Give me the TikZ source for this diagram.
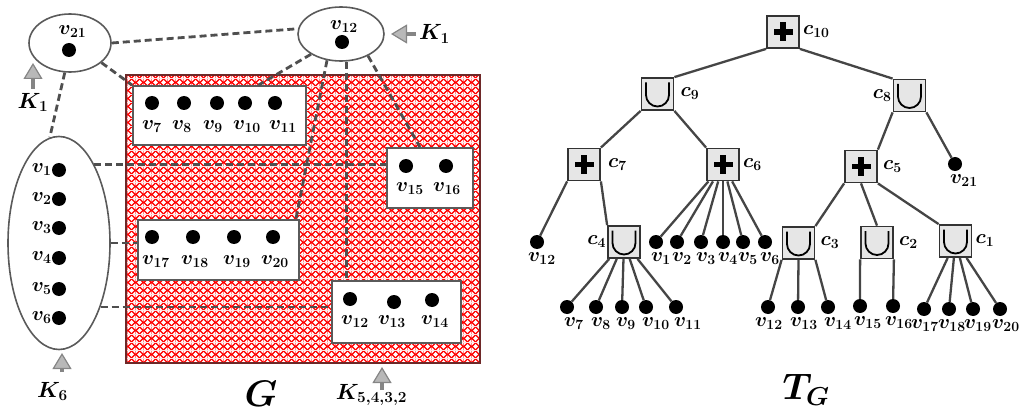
\RequirePackage{fix-cm}
\documentclass[tikz,border=0pt]{standalone}
\usepackage{bm}
\usetikzlibrary{shapes.geometric,arrows.meta,patterns.meta}

\definecolor{edgegray}{HTML}{454545}
\definecolor{dashgray}{HTML}{4F4F4F}
\definecolor{rimgray}{HTML}{5A5A5A}
\definecolor{opfill}{HTML}{E6E6E6}
\definecolor{meshred}{HTML}{FF0000}
\definecolor{meshrim}{HTML}{6E2828}
\definecolor{kstem}{HTML}{858585}
\definecolor{kfill}{HTML}{B8B8B8}

% red mesh with white diamond holes, one 8pt cell
\tikzdeclarepattern{
  name=redmesh,
  type=colored,
  bottom left={(0pt,0pt)},
  top right={(8pt,8pt)},
  tile size={(8pt,8pt)},
  code={
    \fill[meshred] (0pt,0pt) rectangle (8pt,8pt);
    \fill[white] (4pt,1.2pt) -- (6.8pt,4pt) -- (4pt,6.8pt) -- (1.2pt,4pt) -- cycle;
    \fill[white] (0pt,0pt) -- (2.8pt,0pt) -- (0pt,2.8pt) -- cycle;
    \fill[white] (8pt,0pt) -- (8pt,2.8pt) -- (5.2pt,0pt) -- cycle;
    \fill[white] (8pt,8pt) -- (5.2pt,8pt) -- (8pt,5.2pt) -- cycle;
    \fill[white] (0pt,8pt) -- (0pt,5.2pt) -- (2.8pt,8pt) -- cycle;
  }
}

\tikzset{
  every node/.style={inner sep=0pt},
  vlab/.style={font=\fontsize{20}{24}\selectfont},
  klab/.style={font=\fontsize{22}{26}\selectfont},
  biglab/.style={font=\fontsize{37}{44}\selectfont},
  dot/.style={circle, fill=black, minimum size=14pt},
  cluster/.style={ellipse, draw=rimgray, line width=1.6pt},
  setbox/.style={rectangle, draw=rimgray, line width=1.8pt, fill=white},
  link/.style={draw=dashgray, line width=2.8pt, dash pattern=on 7pt off 4pt},
  tedge/.style={draw=edgegray, line width=2.3pt},
  opbox/.style={rectangle, draw=black!80, line width=1.8pt, fill=opfill, minimum size=32pt},
  opsum/.style={opbox, path picture={
      \fill[black] ([xshift=-9.5pt,yshift=-2.8pt]path picture bounding box.center) rectangle ([xshift=9.5pt,yshift=2.8pt]path picture bounding box.center);
      \fill[black] ([xshift=-2.8pt,yshift=-9.5pt]path picture bounding box.center) rectangle ([xshift=2.8pt,yshift=9.5pt]path picture bounding box.center);}},
  opunion/.style={opbox, path picture={
      \draw[black, line width=1.8pt] ([xshift=-11.5pt,yshift=11.5pt]path picture bounding box.center)
        -- ([xshift=-11.5pt,yshift=-1pt]path picture bounding box.center)
        arc[start angle=180, end angle=360, radius=11.5pt]
        -- ([xshift=11.5pt,yshift=11.5pt]path picture bounding box.center);}},
  karrow/.style={draw=kstem, line width=3.5pt, -{Triangle[length=16pt,width=19pt,line width=1.2pt,fill=kfill]}}
}

\begin{document}
\begin{tikzpicture}[x=1pt, y=-1pt]
\useasboundingbox (0,0) rectangle (1030,414);

% ---------- the graph G ----------
% hatched red area
\fill[pattern=redmesh] (126,75) rectangle (480,363);
\draw[meshrim, line width=1.2pt] (126,75) rectangle (480,363);

% clusters
\node[cluster, minimum width=82pt, minimum height=58pt] (e21) at (70,43) {};
\node[cluster, minimum width=86pt, minimum height=54pt] (e12) at (341,34) {};
\node[cluster, minimum width=102pt, minimum height=213pt] (ecl) at (59,243) {};

\node[setbox, minimum width=173pt, minimum height=59pt] (setA) at (219.5,115.5) {};
\node[setbox, minimum width=86pt, minimum height=60pt] (setB) at (430,178) {};
\node[setbox, minimum width=161pt, minimum height=60pt] (setC) at (218.5,250) {};
\node[setbox, minimum width=129pt, minimum height=62pt] (setD) at (396.5,312) {};

% dashed joins
\draw[link] (e21.0) -- (e12.173);
\draw[link] (e21.-32) -- (setA.north west);
\draw[link] (e21.-100) -- (ecl.95);
\draw[link] (e12.214) -- (setA.38);
\draw[link] (e12.242) -- ([xshift=-4pt]setC.north east);
\draw[link] (e12.282) -- (e12.282 |- setD.north);
\draw[link] (e12.321) -- (setB.108);
\draw[link] (ecl.66) -- (ecl.66 -| setB.west);
\draw[link] (ecl.east) -- (ecl.east -| setC.west);
\draw[link] (ecl.-57) -- (ecl.-57 -| setD.west);

% vertices
\node[dot] (dA21) at (69,50) {};
\node[vlab, anchor=north] (ldA21) at (72.5,25) {$\bm{v_{21}}$};
\node[dot] (dB12) at (342,42) {};
\node[vlab, anchor=north] (ldB12) at (344,20) {$\bm{v_{12}}$};

\foreach \i/\y in {1/170,2/199,3/228,4/258,5/289,6/318}{
  \node[dot] (q\i) at (59,\y) {};
  \node[vlab, anchor=east] (lq\i) at (q\i.west) {$\bm{v_{\i}}$};
}
\foreach \i/\x/\lx in {7/152/152,8/184/182,9/217/213,10/245/247,11/275/283}{
  \node[dot] (q\i) at (\x,103) {};
  \node[vlab, anchor=north] (lq\i) at (\lx,120) {$\bm{v_{\i}}$};
}
\foreach \i/\x/\lx in {15/406/410,16/446/447}{
  \node[dot] (q\i) at (\x,166) {};
  \node[vlab, anchor=north] (lq\i) at (\lx,182) {$\bm{v_{\i}}$};
}
\foreach \i/\x/\lx in {17/152/156,18/193/195,19/234/237,20/273/275}{
  \node[dot] (q\i) at (\x,237) {};
  \node[vlab, anchor=north] (lq\i) at (\lx,255) {$\bm{v_{\i}}$};
}
\foreach \i/\x/\y/\lx in {12/350/299/355,13/394/302/392,14/432/300/435}{
  \node[dot] (r\i) at (\x,\y) {};
  \node[vlab, anchor=north] (lr\i) at (\lx,315) {$\bm{v_{\i}}$};
}

% module markers
\node[klab, anchor=west] (kA) at (419,34) {$\bm{K_1}$};
\coordinate (tipA) at (391,34);
\draw[karrow] ([xshift=-3pt]kA.west) -- (tipA);

\node[klab, anchor=north] (kB) at (33,93) {$\bm{K_1}$};
\coordinate (tipB) at (33,63);
\draw[karrow] ([yshift=4pt]kB.north) -- (tipB);

\node[klab, anchor=north] (kC) at (52.5,382) {$\bm{K_6}$};
\coordinate (tipC) at (62,353);
\draw[karrow] ([xshift=9.5pt,yshift=10pt]kC.north) -- (tipC);

\node[klab, anchor=north] (kD) at (371.5,384) {$\bm{K_{5,4,3,2}}$};
\coordinate (tipD) at (382,367);
\draw[karrow] ([xshift=10.5pt,yshift=-6pt]kD.north) -- (tipD);

\node[biglab] (gname) at (261,394) {$\bm{G}$};

% ---------- the tree T_G ----------
\node[opsum]   (c10) at (783,32) {};
\node[opunion] (c9)  at (657.5,94) {};
\node[opunion] (c8)  at (909.5,95.5) {};
\node[opsum]   (c7)  at (584,164.5) {};
\node[opsum]   (c6)  at (723,164.5) {};
\node[opsum]   (c5)  at (861,166.5) {};
\node[opunion] (c4)  at (624,242) {};
\node[opunion] (c3)  at (798.5,243) {};
\node[opunion] (c2)  at (877,242.5) {};
\node[opunion] (c1)  at (955.5,241) {};

\node[vlab, anchor=west] (lc10) at ([xshift=3pt]c10.east) {$\bm{c_{10}}$};
\node[vlab, anchor=west] (lc9)  at ([xshift=6pt]c9.east)  {$\bm{c_{9}}$};
\node[vlab, anchor=east] (lc8)  at ([xshift=-1pt]c8.west) {$\bm{c_{8}}$};
\node[vlab, anchor=west] (lc7)  at ([xshift=7pt]c7.east)  {$\bm{c_{7}}$};
\node[vlab, anchor=west] (lc6)  at ([xshift=3pt]c6.east)  {$\bm{c_{6}}$};
\node[vlab, anchor=west] (lc5)  at ([xshift=5pt]c5.east)  {$\bm{c_{5}}$};
\node[vlab, anchor=east] (lc4)  at ([xshift=-1pt]c4.west) {$\bm{c_{4}}$};
\node[vlab, anchor=west] (lc3)  at ([xshift=5pt]c3.east)  {$\bm{c_{3}}$};
\node[vlab, anchor=west] (lc2)  at ([xshift=5pt]c2.east)  {$\bm{c_{2}}$};
\node[vlab, anchor=west] (lc1)  at ([xshift=3pt]c1.east)  {$\bm{c_{1}}$};

% leaves
\foreach \n/\x/\y/\s/\dx in {
  tg12/537/242/12/-4, tg21/955/164/21/0,
  tb1/656/242/1/0, tb2/677/242/2/0, tb3/701/242/3/0, tb4/723/242/4/0, tb5/743/242/5/0, tb6/765/242/6/0,
  ta7/567/307/7/2, ta8/596/307/8/0, ta9/622/307/9/-1, ta10/646/307/10/1, ta11/676/307/11/3,
  td12/768/307/12/-8, td13/798/307/13/-3, td14/828/307/14/1,
  te15/860/306/15/-1, te16/893/306/16/-3,
  tf17/924/309/17/-8, tf18/949/309/18/-6, tf19/973/309/19/-4, tf20/1000/309/20/-3}{
  \node[dot] (\n) at (\x,\y) {};
  \node[vlab, anchor=north west] (l\n) at ([xshift=\dx pt, yshift=-5pt]\n.south west) {$\bm{v_{\s}}$};
}

% tree edges
\draw[tedge] (c10.south west) -- (c9.north east);
\draw[tedge] (c10.south east) -- (c8.north west);
\draw[tedge] (c9.south west) -- (c7.north east);
\draw[tedge] (c9.south east) -- (c6.north west);
\draw[tedge] (c8.south west) -- (c5.north east);
\draw[tedge] (c8.south east) -- (tg21);
\draw[tedge] (c7.south west) -- (tg12);
\draw[tedge] (c7.south east) -- (c4.north west);
\draw[tedge] (c5.south west) -- (c3.north east);
\draw[tedge] (c5.south) -- (c2.north);
\draw[tedge] (c5.south east) -- (c1.north west);
\foreach \i in {1,...,6} \draw[tedge] (c6) -- (tb\i);
\foreach \i in {7,...,11} \draw[tedge] (c4) -- (ta\i);
\draw[tedge] (c3.south west) -- (td12);
\draw[tedge] (c3.south) -- (td13);
\draw[tedge] (c3.south east) -- (td14);
\draw[tedge] (c2.south west) -- (te15);
\draw[tedge] (c2.south east) -- (te16);
\foreach \i in {17,...,20} \draw[tedge] (c1) -- (tf\i);

\node[biglab] (tname) at (806,390) {$\bm{T_G}$};
\end{tikzpicture}
\end{document}
